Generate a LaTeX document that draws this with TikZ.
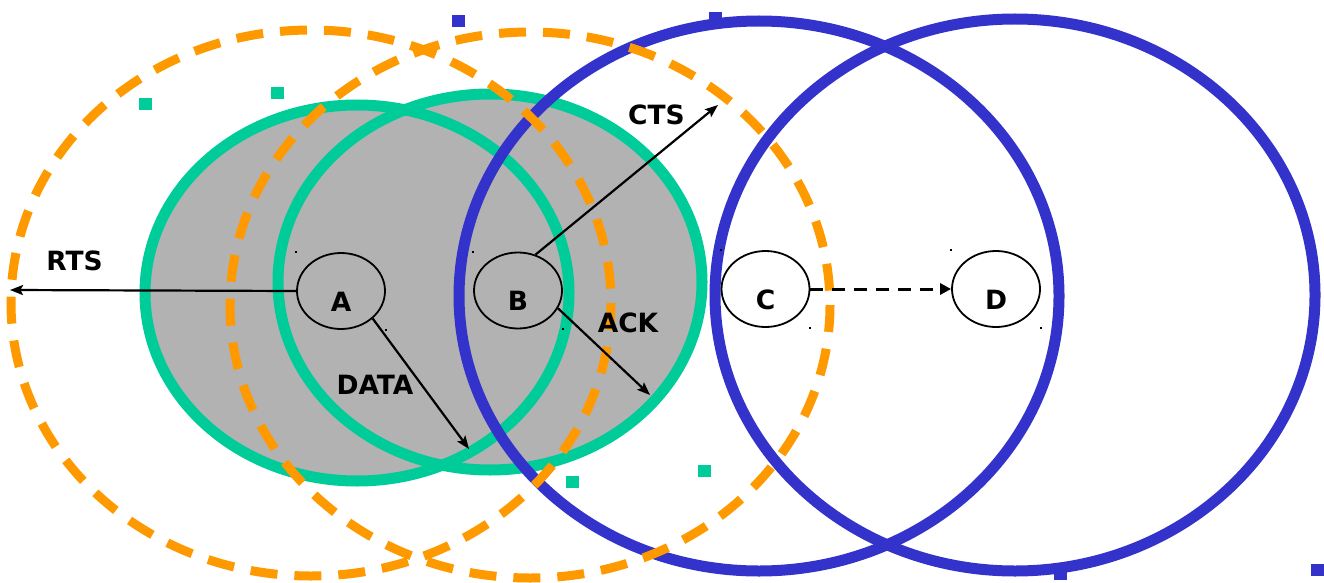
\documentclass[tikz,border=0pt]{standalone}
\usepackage{fontspec}
\setmainfont{DejaVu Sans}
\usetikzlibrary{arrows.meta,shapes.geometric}
\definecolor{rangeorange}{RGB}{255,153,0}
\definecolor{rangegreen}{RGB}{0,204,153}
\definecolor{rangeblue}{RGB}{51,51,204}
\definecolor{overlapgray}{RGB}{178,178,178}
\begin{document}
\begin{tikzpicture}[x=1pt,y=-1pt,
  greenrange/.style={draw=rangegreen,line width=11pt},
  bluerange/.style={draw=rangeblue,line width=11pt},
  orangerange/.style={draw=rangeorange,line width=9pt,dash pattern=on 27pt off 17pt},
  station/.style={draw=black,line width=1.8pt,ellipse,minimum width=88pt,minimum height=76pt,inner sep=0pt},
  stname/.style={font=\fontsize{26.5}{32}\selectfont\bfseries,yshift=-10.5pt},
  msg/.style={font=\fontsize{26.5}{32}\selectfont\bfseries,inner sep=0pt},
  sig/.style={draw=black,line width=2.2pt,-{Stealth[length=13pt,width=10pt,inset=2.5pt]}},
  relay/.style={draw=black,line width=3pt,dash pattern=on 13pt off 9pt,-{Triangle[length=11pt,width=11pt]}},
  tealmark/.style={fill=rangegreen},
  bluemark/.style={fill=rangeblue}
]
\useasboundingbox (0,0) rectangle (1324,583);

% shaded overlap of the two inner ranges
\fill[overlapgray] (357,293) ellipse [x radius=212, y radius=188];
\fill[overlapgray] (490,282) ellipse [x radius=212, y radius=188];
\draw[greenrange] (357,293) ellipse [x radius=212, y radius=188];
\draw[greenrange] (490,282) ellipse [x radius=212, y radius=188];

% ranges of C and D
\draw[bluerange] (759,296) ellipse [x radius=300, y radius=275];
\draw[bluerange] (1015,295) ellipse [x radius=300, y radius=276];

% interference ranges of A and B
\draw[orangerange] (311,303) ellipse [x radius=300, y radius=273];
\draw[orangerange] (530,305) ellipse [x radius=300, y radius=273];

% corner marks
\foreach \p in {(145.5,104),(277.5,93.5),(572.5,481.5),(704.5,470.5)}
  \fill[tealmark] \p +(-6.5,-6) rectangle +(6.5,6);
\foreach \p in {(458.5,21),(715,18),(1060.5,574),(1317,569.5)}
  \fill[bluemark] \p +(-6.5,-6) rectangle +(6.5,6);

% stations
\node[station,label={[stname]center:A}] (A) at (341,291) {};
\node[station,label={[stname]center:B}] (B) at (518,290.5) {};
\node[station,label={[stname]center:C}] (C) at (765.5,289) {};
\node[station,label={[stname]center:D}] (D) at (996,289) {};
\foreach \n in {A,B,C,D} {
  \fill (\n.west |- \n.north) +(-1,-1) rectangle +(1,1);
  \fill (\n.east |- \n.south) +(-1,-1) rectangle +(1,1);
}

% message ends
\coordinate (rtsEnd) at (10,290);
\coordinate (ctsEnd) at (718,105);
\coordinate (ackEnd) at (650,395);
\coordinate (dataEnd) at (469,449);

\draw[sig] (A.180) -- (rtsEnd);
\draw[sig] (B.64) -- (ctsEnd);
\draw[sig] (B.-24) -- (ackEnd);
\draw[sig] (A.-41) -- (dataEnd);
\draw[relay] (C.east) -- (D.west);

% message labels
\node[msg] (rts) at (74.5,261) {RTS};
\node[msg] (cts) at (656.5,115) {CTS};
\node[msg] (ack) at (628,322.5) {ACK};
\node[msg] (data) at (375,384.5) {DATA};
\end{tikzpicture}
\end{document}
